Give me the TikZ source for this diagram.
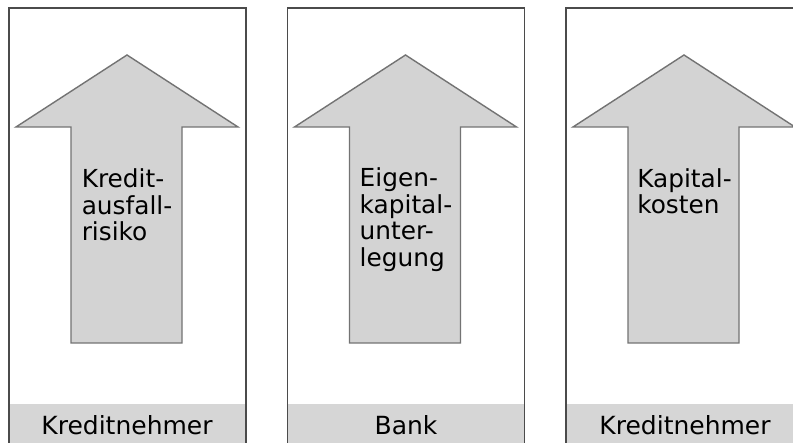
\documentclass[tikz,border=0pt]{standalone}
\usepackage{fontspec}
\setmainfont{DejaVu Sans}
\definecolor{bandgray}{RGB}{214,214,214}
\definecolor{arrowfill}{RGB}{211,211,211}
\definecolor{arrowline}{RGB}{115,115,115}
\definecolor{panelline}{RGB}{75,75,75}
\tikzset{
  panelbox/.style={draw=panelline, line width=1.8pt},
  bandbox/.style={fill=bandgray, draw=none},
  bigarrow/.style={fill=arrowfill, draw=arrowline, line width=1.4pt, line join=miter},
  arrowtext/.style={inner sep=0pt, anchor=north, align=left, font=\fontsize{24.8}{26.6}\selectfont},
  bandtext/.style={inner sep=0pt, anchor=base, font=\fontsize{25}{28}\selectfont}
}
\begin{document}
\begin{tikzpicture}[x=1pt,y=-1pt]
\useasboundingbox (0,0) rectangle (793,443);
\clip (0,0) rectangle (793,443);
\fill[white] (0,0) rectangle (793,443);
% panels: left edges 9, 287.5, 566; width 237
\foreach \px/\name in {9/a,287.5/b,566/c}{
  \fill[bandgray] (\px,404) rectangle ++(237,60);
  \draw[panelbox] (\px,8) rectangle ++(237,460);
  \draw[bigarrow] (\px+118,55) -- (\px+229,127) -- (\px+173,127) -- (\px+173,343)
     -- (\px+62,343) -- (\px+62,127) -- (\px+7,127) -- cycle;
}
\node[arrowtext] (t1) at (127,168.5) {Kredit-\\ausfall-\\risiko};
\node[arrowtext] (t2) at (406,167.5) {Eigen-\\kapital-\\unter-\\legung};
\node[arrowtext] (t3) at (684.5,168) {Kapital-\\kosten};
\node[bandtext] (b1) at (127,435) {Kreditnehmer};
\node[bandtext] (b2) at (406,435) {Bank};
\node[bandtext] (b3) at (685,435) {Kreditnehmer};
\end{tikzpicture}
\end{document}
